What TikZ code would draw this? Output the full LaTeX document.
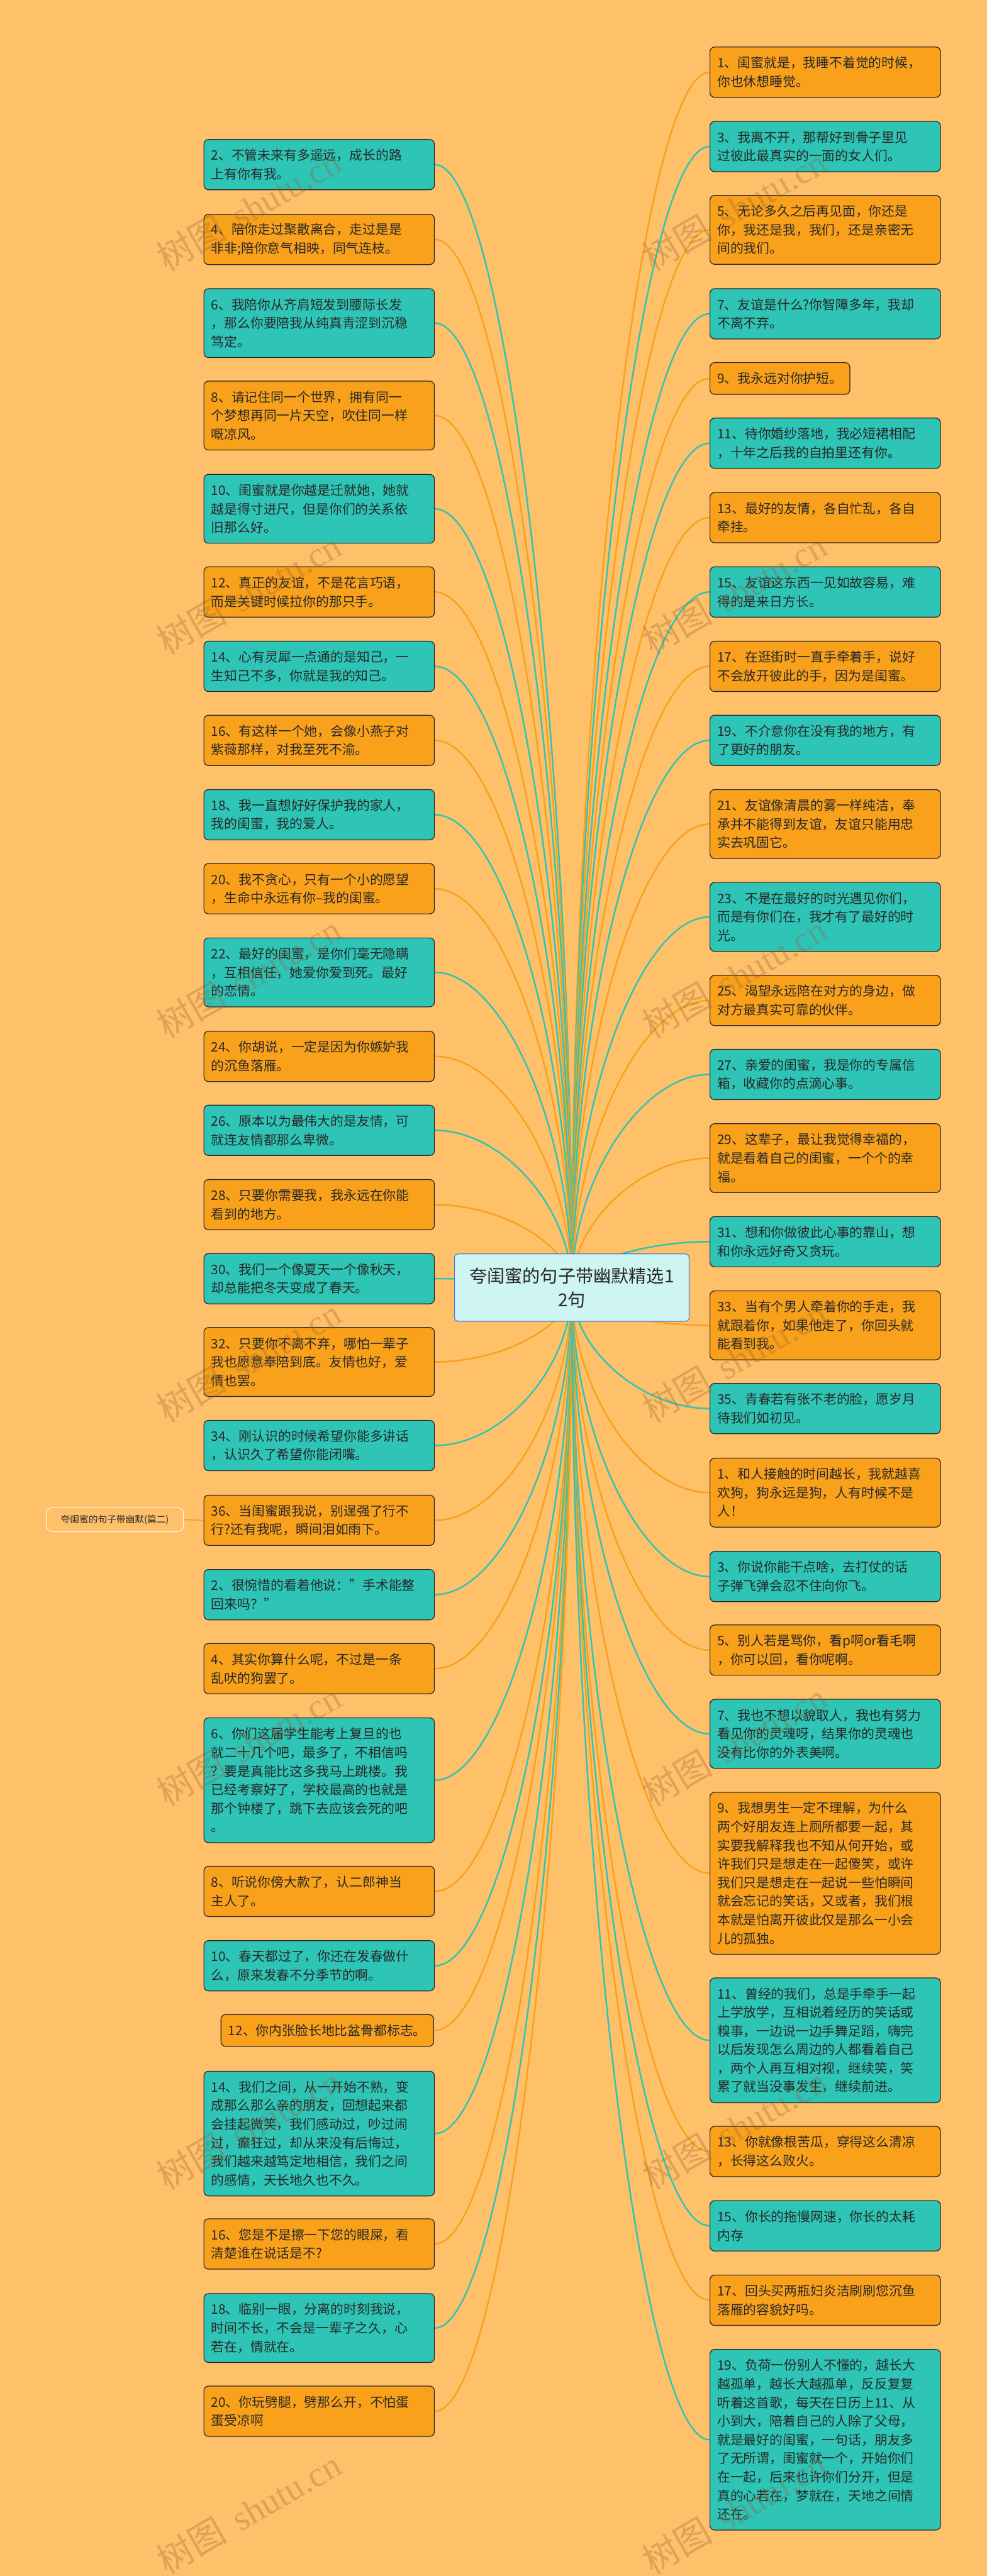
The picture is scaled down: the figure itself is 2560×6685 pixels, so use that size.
\documentclass[tikz,border=0pt]{standalone}
\usepackage{fontspec}
\setmainfont{Noto Sans CJK SC}
\newfontfamily\wmlatin{Liberation Serif}
\usetikzlibrary{calc}
\definecolor{bgc}{RGB}{255,192,106}
\definecolor{orn}{RGB}{249,161,27}
\definecolor{tea}{RGB}{46,196,182}
\definecolor{txt}{RGB}{40,40,40}
\definecolor{cfill}{RGB}{206,245,241}
\definecolor{cline}{RGB}{80,128,208}
\definecolor{wm}{RGB}{150,100,50}
\definecolor{lblline}{RGB}{255,244,228}
\pgfdeclarelayer{bgfill}
\pgfdeclarelayer{lines}
\pgfsetlayers{bgfill,lines,main}
\tikzset{
  qbox/.style={draw=txt, line width=1pt, rounded corners=6pt, text=txt,
    font=\fontsize{17pt}{24.15pt}\selectfont, inner xsep=9.5pt, inner ysep=3pt, align=left},
  wide/.style={text width=280pt},
  nl/.style={minimum height={(34+48.3*#1)*0.5pt}},
  conn/.style={line width=2pt, draw=#1},
  wmark/.style={text=wm, text opacity=0.32, font=\fontsize{46pt}{50pt}\selectfont, inner sep=0pt}
}
\newcommand\qlink[2]{\draw[conn=#1] let \p1=(C.center), \p2=(#2) in (\p1) .. controls (\x1,{0.5*(\y1+\y2)}) and ({0.5*(\x1+\x2)},\y2) .. (\p2);}
\begin{document}
\begin{tikzpicture}[x=0.5pt,y=-0.5pt]
\useasboundingbox (0,0) rectangle (2560,6685);
\begin{pgfonlayer}{bgfill}
\fill[bgc] (0,0) rectangle (2560,6685);
\end{pgfonlayer}

% centre
\node[draw=cline, line width=1pt, fill=cfill, rounded corners=5pt, minimum width={609*0.5pt}, minimum height={175*0.5pt}, align=center, font=\fontsize{23pt}{31pt}\selectfont, text=txt] (C) at (1483.5,3341.5) {夸闺蜜的句子带幽默精选1\\2句};

% left column
\node[qbox, wide, nl=2, fill=tea, anchor=north west] (L2) at (528,361) {2、不管未来有多遥远，成长的路\\上有你有我。};
\node[qbox, wide, nl=2, fill=orn, anchor=north west] (L4) at (528,555) {4、陪你走过聚散离合，走过是是\\非非;陪你意气相映，同气连枝。};
\node[qbox, wide, nl=3, fill=tea, anchor=north west] (L6) at (528,748) {6、我陪你从齐肩短发到腰际长发\\，那么你要陪我从纯真青涩到沉稳\\笃定。};
\node[qbox, wide, nl=3, fill=orn, anchor=north west] (L8) at (528,988) {8、请记住同一个世界，拥有同一\\个梦想再同一片天空，吹住同一样\\嘅凉风。};
\node[qbox, wide, nl=3, fill=tea, anchor=north west] (L10) at (528,1230) {10、闺蜜就是你越是迁就她，她就\\越是得寸进尺，但是你们的关系依\\旧那么好。};
\node[qbox, wide, nl=2, fill=orn, anchor=north west] (L12) at (528,1470) {12、真正的友谊，不是花言巧语，\\而是关键时候拉你的那只手。};
\node[qbox, wide, nl=2, fill=tea, anchor=north west] (L14) at (528,1663) {14、心有灵犀一点通的是知己，一\\生知己不多，你就是我的知己。};
\node[qbox, wide, nl=2, fill=orn, anchor=north west] (L16) at (528,1855) {16、有这样一个她，会像小燕子对\\紫薇那样，对我至死不渝。};
\node[qbox, wide, nl=2, fill=tea, anchor=north west] (L18) at (528,2048) {18、我一直想好好保护我的家人，\\我的闺蜜，我的爱人。};
\node[qbox, wide, nl=2, fill=orn, anchor=north west] (L20) at (528,2240) {20、我不贪心，只有一个小的愿望\\，生命中永远有你–我的闺蜜。};
\node[qbox, wide, nl=3, fill=tea, anchor=north west] (L22) at (528,2433) {22、最好的闺蜜，是你们毫无隐瞒\\，互相信任，她爱你爱到死。最好\\的恋情。};
\node[qbox, wide, nl=2, fill=orn, anchor=north west] (L24) at (528,2675) {24、你胡说，一定是因为你嫉妒我\\的沉鱼落雁。};
\node[qbox, wide, nl=2, fill=tea, anchor=north west] (L26) at (528,2867) {26、原本以为最伟大的是友情，可\\就连友情都那么卑微。};
\node[qbox, wide, nl=2, fill=orn, anchor=north west] (L28) at (528,3060) {28、只要你需要我，我永远在你能\\看到的地方。};
\node[qbox, wide, nl=2, fill=tea, anchor=north west] (L30) at (528,3252) {30、我们一个像夏天一个像秋天，\\却总能把冬天变成了春天。};
\node[qbox, wide, nl=3, fill=orn, anchor=north west] (L32) at (528,3444) {32、只要你不离不弃，哪怕一辈子\\我也愿意奉陪到底。友情也好，爱\\情也罢。};
\node[qbox, wide, nl=2, fill=tea, anchor=north west] (L34) at (528,3685) {34、刚认识的时候希望你能多讲话\\，认识久了希望你能闭嘴。};
\node[qbox, wide, nl=2, fill=orn, anchor=north west] (L36) at (528,3879) {36、当闺蜜跟我说，别逞强了行不\\行?还有我呢，瞬间泪如雨下。};
\node[qbox, wide, nl=2, fill=tea, anchor=north west] (L2b) at (528,4072) {2、很惋惜的看着他说："手术能整\\回来吗？"};
\node[qbox, wide, nl=2, fill=orn, anchor=north west] (L4b) at (528,4264) {4、其实你算什么呢，不过是一条\\乱吠的狗罢了。};
\node[qbox, wide, nl=6, fill=tea, anchor=north west] (L6b) at (528,4457) {6、你们这届学生能考上复旦的也\\就二十几个吧，最多了，不相信吗\\？要是真能比这多我马上跳楼。我\\已经考察好了，学校最高的也就是\\那个钟楼了，跳下去应该会死的吧\\。};
\node[qbox, wide, nl=2, fill=orn, anchor=north west] (L8b) at (528,4842) {8、听说你傍大款了，认二郎神当\\主人了。};
\node[qbox, wide, nl=2, fill=tea, anchor=north west] (L10b) at (528,5035) {10、春天都过了，你还在发春做什\\么，原来发春不分季节的啊。};
\node[qbox, nl=1, fill=orn, anchor=north east] (L12b) at (1126,5227) {12、你内张脸长地比盆骨都标志。};
\node[qbox, wide, nl=6, fill=tea, anchor=north west] (L14b) at (528,5374) {14、我们之间，从一开始不熟，变\\成那么那么亲的朋友，回想起来都\\会挂起微笑，我们感动过，吵过闹\\过，癫狂过，却从来没有后悔过，\\我们越来越笃定地相信，我们之间\\的感情，天长地久也不久。};
\node[qbox, wide, nl=2, fill=orn, anchor=north west] (L16b) at (528,5757) {16、您是不是擦一下您的眼屎，看\\清楚谁在说话是不?};
\node[qbox, wide, nl=3, fill=tea, anchor=north west] (L18b) at (528,5951) {18、临别一眼，分离的时刻我说，\\时间不长，不会是一辈子之久，心\\若在，情就在。};
\node[qbox, wide, nl=2, fill=orn, anchor=north west] (L20b) at (528,6191) {20、你玩劈腿，劈那么开，不怕蛋\\蛋受凉啊};

% right column
\node[qbox, wide, nl=2, fill=orn, anchor=north west] (R1) at (1841,121) {1、闺蜜就是，我睡不着觉的时候，\\你也休想睡觉。};
\node[qbox, wide, nl=2, fill=tea, anchor=north west] (R3) at (1841,314) {3、我离不开，那帮好到骨子里见\\过彼此最真实的一面的女人们。};
\node[qbox, wide, nl=3, fill=orn, anchor=north west] (R5) at (1841,506) {5、无论多久之后再见面，你还是\\你，我还是我，我们，还是亲密无\\间的我们。};
\node[qbox, wide, nl=2, fill=tea, anchor=north west] (R7) at (1841,748) {7、友谊是什么?你智障多年，我却\\不离不弃。};
\node[qbox, nl=1, fill=orn, anchor=north west] (R9) at (1841,940) {9、我永远对你护短。};
\node[qbox, wide, nl=2, fill=tea, anchor=north west] (R11) at (1841,1084) {11、待你婚纱落地，我必短裙相配\\，十年之后我的自拍里还有你。};
\node[qbox, wide, nl=2, fill=orn, anchor=north west] (R13) at (1841,1277) {13、最好的友情，各自忙乱，各自\\牵挂。};
\node[qbox, wide, nl=2, fill=tea, anchor=north west] (R15) at (1841,1470) {15、友谊这东西一见如故容易，难\\得的是来日方长。};
\node[qbox, wide, nl=2, fill=orn, anchor=north west] (R17) at (1841,1663) {17、在逛街时一直手牵着手，说好\\不会放开彼此的手，因为是闺蜜。};
\node[qbox, wide, nl=2, fill=tea, anchor=north west] (R19) at (1841,1855) {19、不介意你在没有我的地方，有\\了更好的朋友。};
\node[qbox, wide, nl=3, fill=orn, anchor=north west] (R21) at (1841,2048) {21、友谊像清晨的雾一样纯洁，奉\\承并不能得到友谊，友谊只能用忠\\实去巩固它。};
\node[qbox, wide, nl=3, fill=tea, anchor=north west] (R23) at (1841,2289) {23、不是在最好的时光遇见你们，\\而是有你们在，我才有了最好的时\\光。};
\node[qbox, wide, nl=2, fill=orn, anchor=north west] (R25) at (1841,2530) {25、渴望永远陪在对方的身边，做\\对方最真实可靠的伙伴。};
\node[qbox, wide, nl=2, fill=tea, anchor=north west] (R27) at (1841,2722) {27、亲爱的闺蜜，我是你的专属信\\箱，收藏你的点滴心事。};
\node[qbox, wide, nl=3, fill=orn, anchor=north west] (R29) at (1841,2915) {29、这辈子，最让我觉得幸福的，\\就是看着自己的闺蜜，一个个的幸\\福。};
\node[qbox, wide, nl=2, fill=tea, anchor=north west] (R31) at (1841,3156) {31、想和你做彼此心事的靠山，想\\和你永远好奇又贪玩。};
\node[qbox, wide, nl=3, fill=orn, anchor=north west] (R33) at (1841,3349) {33、当有个男人牵着你的手走，我\\就跟着你，如果他走了，你回头就\\能看到我。};
\node[qbox, wide, nl=2, fill=tea, anchor=north west] (R35) at (1841,3589) {35、青春若有张不老的脸，愿岁月\\待我们如初见。};
\node[qbox, wide, nl=3, fill=orn, anchor=north west] (R1b) at (1841,3783) {1、和人接触的时间越长，我就越喜\\欢狗，狗永远是狗，人有时候不是\\人！};
\node[qbox, wide, nl=2, fill=tea, anchor=north west] (R3b) at (1841,4025) {3、你说你能干点啥，去打仗的话\\子弹飞弹会忍不住向你飞。};
\node[qbox, wide, nl=2, fill=orn, anchor=north west] (R5b) at (1841,4216) {5、别人若是骂你，看p啊or看毛啊\\，你可以回，看你呢啊。};
\node[qbox, wide, nl=3, fill=tea, anchor=north west] (R7b) at (1841,4409) {7、我也不想以貌取人，我也有努力\\看见你的灵魂呀，结果你的灵魂也\\没有比你的外表美啊。};
\node[qbox, wide, nl=8, fill=orn, anchor=north west] (R9b) at (1841,4650) {9、我想男生一定不理解，为什么\\两个好朋友连上厕所都要一起，其\\实要我解释我也不知从何开始，或\\许我们只是想走在一起傻笑，或许\\我们只是想走在一起说一些怕瞬间\\就会忘记的笑话，又或者，我们根\\本就是怕离开彼此仅是那么一小会\\儿的孤独。};
\node[qbox, wide, nl=6, fill=tea, anchor=north west] (R11b) at (1841,5132) {11、曾经的我们，总是手牵手一起\\上学放学，互相说着经历的笑话或\\糗事，一边说一边手舞足蹈，嗨完\\以后发现怎么周边的人都看着自己\\，两个人再互相对视，继续笑，笑\\累了就当没事发生，继续前进。};
\node[qbox, wide, nl=2, fill=orn, anchor=north west] (R13b) at (1841,5517) {13、你就像根苦瓜，穿得这么清凉\\，长得这么败火。};
\node[qbox, wide, nl=2, fill=tea, anchor=north west] (R15b) at (1841,5710) {15、你长的拖慢网速，你长的太耗\\内存};
\node[qbox, wide, nl=2, fill=orn, anchor=north west] (R17b) at (1841,5903) {17、回头买两瓶妇炎洁刷刷您沉鱼\\落雁的容貌好吗。};
\node[qbox, wide, nl=9, fill=tea, anchor=north west] (R19b) at (1841,6096) {19、负荷一份别人不懂的，越长大\\越孤单，越长大越孤单，反反复复\\听着这首歌，每天在日历上11、从\\小到大，陪着自己的人除了父母，\\就是最好的闺蜜，一句话，朋友多\\了无所谓，闺蜜就一个，开始你们\\在一起，后来也许你们分开，但是\\真的心若在，梦就在，天地之间情\\还在。};

% side label
\node[draw=lblline, line width=1pt, rounded corners=8pt, minimum width={356*0.5pt}, minimum height={63*0.5pt}, font=\fontsize{12pt}{14pt}\selectfont, text=txt] (S) at (298,3943.5) {夸闺蜜的句子带幽默(篇二)};

\begin{pgfonlayer}{lines}
\draw[conn=orn, line width=1.5pt] (S.east) -- (L36.west);
\qlink{tea}{L2.east}
\qlink{orn}{L4.east}
\qlink{tea}{L6.east}
\qlink{orn}{L8.east}
\qlink{tea}{L10.east}
\qlink{orn}{L12.east}
\qlink{tea}{L14.east}
\qlink{orn}{L16.east}
\qlink{tea}{L18.east}
\qlink{orn}{L20.east}
\qlink{tea}{L22.east}
\qlink{orn}{L24.east}
\qlink{tea}{L26.east}
\qlink{orn}{L28.east}
\qlink{tea}{L30.east}
\qlink{orn}{L32.east}
\qlink{tea}{L34.east}
\qlink{orn}{L36.east}
\qlink{tea}{L2b.east}
\qlink{orn}{L4b.east}
\qlink{tea}{L6b.east}
\qlink{orn}{L8b.east}
\qlink{tea}{L10b.east}
\qlink{orn}{L12b.east}
\qlink{tea}{L14b.east}
\qlink{orn}{L16b.east}
\qlink{tea}{L18b.east}
\qlink{orn}{L20b.east}
\qlink{orn}{R1.west}
\qlink{tea}{R3.west}
\qlink{orn}{R5.west}
\qlink{tea}{R7.west}
\qlink{orn}{R9.west}
\qlink{tea}{R11.west}
\qlink{orn}{R13.west}
\qlink{tea}{R15.west}
\qlink{orn}{R17.west}
\qlink{tea}{R19.west}
\qlink{orn}{R21.west}
\qlink{tea}{R23.west}
\qlink{orn}{R25.west}
\qlink{tea}{R27.west}
\qlink{orn}{R29.west}
\qlink{tea}{R31.west}
\qlink{orn}{R33.west}
\qlink{tea}{R35.west}
\qlink{orn}{R1b.west}
\qlink{tea}{R3b.west}
\qlink{orn}{R5b.west}
\qlink{tea}{R7b.west}
\qlink{orn}{R9b.west}
\qlink{tea}{R11b.west}
\qlink{orn}{R13b.west}
\qlink{tea}{R15b.west}
\qlink{orn}{R17b.west}
\qlink{tea}{R19b.west}
\end{pgfonlayer}

% watermarks
\foreach \wy [count=\k] in {543,1539,2535,3531,4527,5523,6519}{
  \node[wmark, rotate=30] (WL\k) at (645,\wy) {树图\hspace{0.4em}{\wmlatin shutu.cn}};
  \node[wmark, rotate=30] (WR\k) at (1905,\wy) {树图\hspace{0.4em}{\wmlatin shutu.cn}};
}
\end{tikzpicture}
\end{document}
